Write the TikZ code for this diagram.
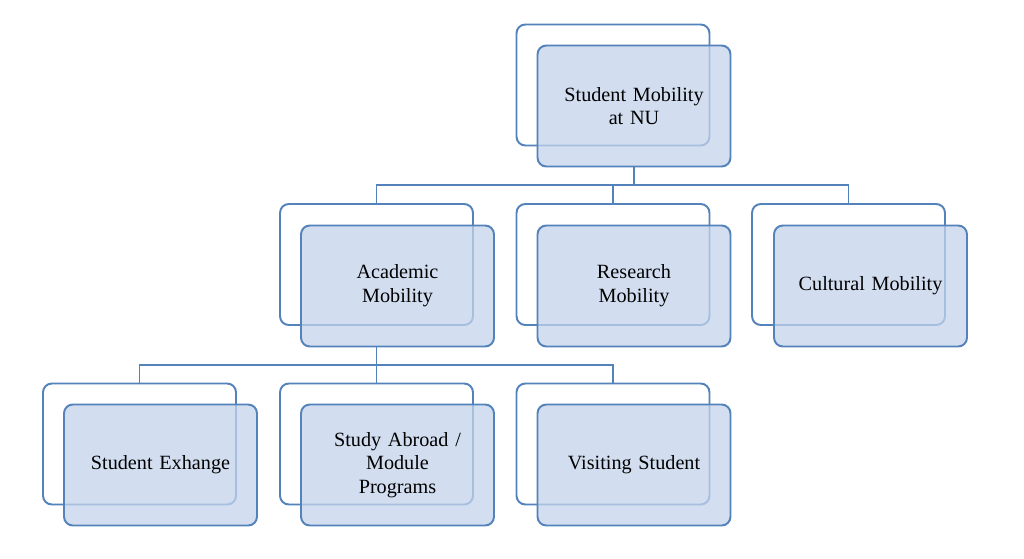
\documentclass[tikz,border=0pt]{standalone}
\usepackage{fontspec}
\setmainfont{Liberation Serif}
\usetikzlibrary{positioning}
\definecolor{boxline}{RGB}{84,130,186}
\definecolor{boxfill}{RGB}{196,212,236}
\tikzset{
  back/.style={draw=boxline, line width=1.1pt, rounded corners=5pt, fill=white,
    minimum width=3.86cm, minimum height=2.42cm},
  front/.style={draw=boxline, line width=1.1pt, rounded corners=5pt, fill=boxfill, fill opacity=0.75, text opacity=1,
    minimum width=3.86cm, minimum height=2.42cm, align=center, text width=3.4cm,
    font=\fontsize{11.5}{13.5}\selectfont},
  link/.style={draw=boxline, line width=1.1pt}
}
\begin{document}
\begin{tikzpicture}[x=0.02cm,y=-0.02cm]
  \useasboundingbox (0,0) rectangle (1024,558);

  \node[back] (topb) at (613,85) {};
  \node[front] (top) at (634,106) {Student Mobility\\at NU};

  \node[back] (acab) at (376.5,264.5) {};
  \node[front] (aca) at (397.5,286) {Academic\\Mobility};
  \node[back] (resb) at (613,264.5) {};
  \node[front] (res) at (634,286) {Research\\Mobility};
  \node[back] (culb) at (848.5,264.5) {};
  \node[front] (cul) at (870.5,286) {Cultural Mobility};

  \node[back] (exb) at (139.5,444) {};
  \node[front] (ex) at (160.5,465) {Student Exhange};
  \node[back] (stb) at (376.5,444) {};
  \node[front] (st) at (397.5,465) {Study Abroad /\\Module\\Programs};
  \node[back] (visb) at (613,444) {};
  \node[front] (vis) at (634,465) {Visiting Student};

  % connectors
  \draw[link] (top.south) -- (top.south |- 0,185) -| (acab.north);
  \draw[link] (top.south |- 0,185) -| (resb.north);
  \draw[link] (top.south |- 0,185) -| (culb.north);

  \draw[link] (acab.north |- aca.south) -- (acab.north |- 0,365) -| (exb.north);
  \draw[link] (acab.north |- 0,365) -- (stb.north);
  \draw[link] (acab.north |- 0,365) -| (visb.north);
\end{tikzpicture}
\end{document}
